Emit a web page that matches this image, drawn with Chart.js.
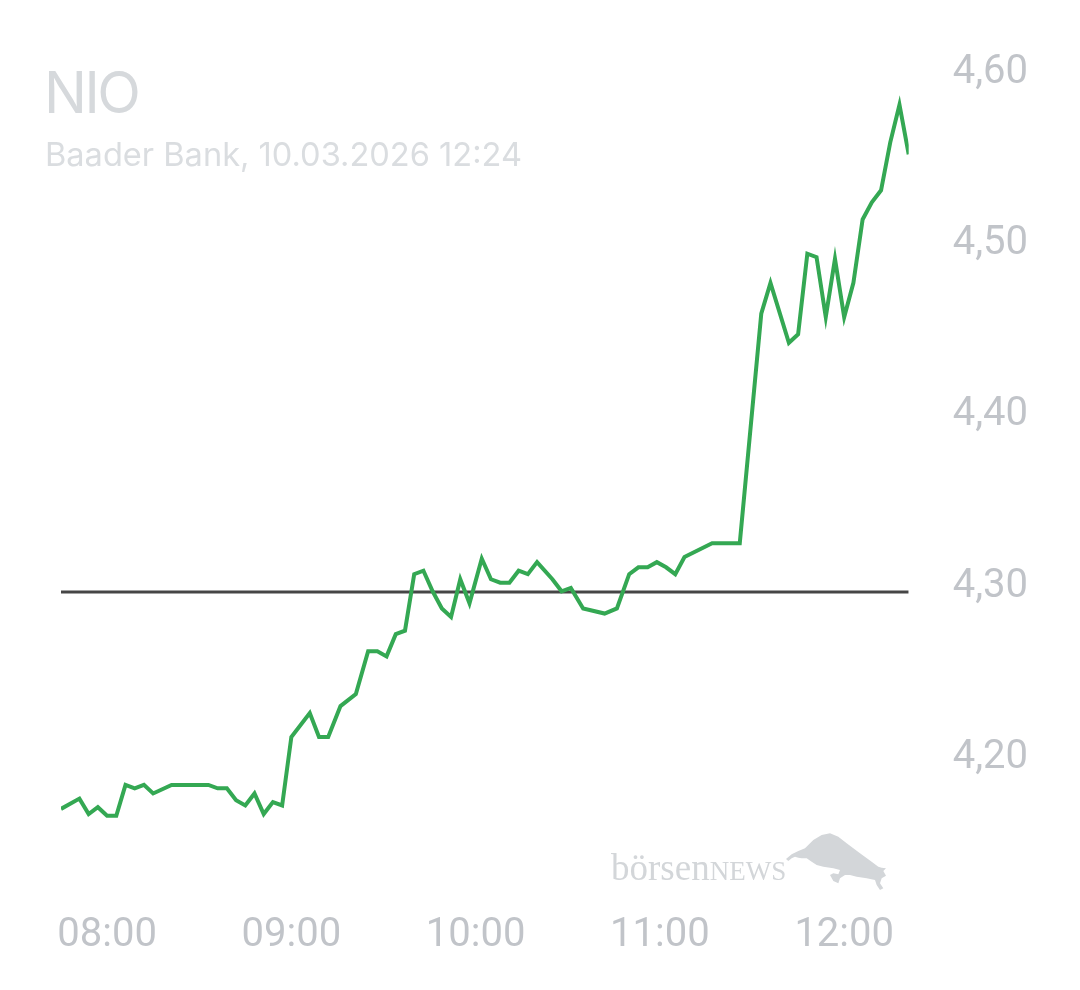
<!DOCTYPE html>
<html>
<head>
<meta charset="utf-8">
<script src="https://cdn.jsdelivr.net/npm/chart.js@4.4.1/dist/chart.umd.min.js"></script>
<style>
  html, body { margin: 0; padding: 0; background: #ffffff; }
  #wrap { position: relative; width: 1080px; height: 990px; overflow: hidden; background: #fff; }
  #c { position: absolute; left: 0; top: 0; }
  #title { position: absolute; left: 44px; top: 64px; font-family: Inter, "Noto Sans", sans-serif; font-size: 57px; color: #d6d9dc; line-height: 1; letter-spacing: -2.5px; }
  #subtitle { position: absolute; left: 45px; top: 138px; font-family: Inter, "Noto Sans", sans-serif; font-size: 32.6px; color: #dadde0; line-height: 1; white-space: nowrap; }
  #wm { position: absolute; left: 611px; top: 849px; font-family: "Liberation Serif", "DejaVu Serif", serif; color: #d3d6d9; white-space: nowrap; line-height: 1; }
  #wm .a { font-size: 37px; }
  #wm .b { font-size: 27px; }
  #bull { position: absolute; left: 780px; top: 825px; width: 115px; height: 72px; }
</style>
</head>
<body>
<div id="wrap">
  <canvas id="c" width="1080" height="990"></canvas>
  <div id="title">NIO</div>
  <div id="subtitle">Baader Bank, 10.03.2026 12:24</div>
  <div id="wm"><span class="a">börsen</span><span class="b">NEWS</span></div>
  <svg id="bull" viewBox="0 0 345 216">
    <path fill="#d3d6d9" d="M18 102 L35 88 L55 78 L75 70 L100 45 L125 30 L150 25 L175 35 L200 55 L240 85 L275 110 L295 125 L305 128 L318 130 L310 138 L318 152 L305 160 L300 175 L310 190 L300 195 L290 180 L285 165 L260 160 L230 155 L210 150 L195 150 L180 160 L175 175 L160 168 L150 150 L160 145 L175 148 L180 135 L160 130 L130 125 L110 120 L95 110 L80 100 L65 100 L55 98 L45 95 L35 100 L25 108 Z"/>
  </svg>
</div>
<script>
// ---- data ----
const times = ['07:45','07:51','07:54','07:57','08:00','08:03','08:06','08:09','08:12','08:15',
  '08:21','08:33','08:36','08:39','08:42','08:45','08:48','08:51','08:54','08:57',
  '09:00','09:06','09:09','09:12','09:16','09:21','09:25','09:28','09:31','09:34',
  '09:37','09:40','09:43','09:46','09:49','09:52','09:55','09:58','10:02','10:05',
  '10:08','10:11','10:14','10:17','10:20','10:25','10:28','10:31','10:35','10:42',
  '10:46','10:50','10:53','10:56','10:59','11:02','11:05','11:08','11:17','11:26',
  '11:33','11:36','11:42','11:45','11:48','11:51','11:54','11:57','12:00','12:03',
  '12:06','12:09','12:12','12:15','12:18','12:21'];
const prices = [4.168,4.174,4.165,4.169,4.164,4.164,4.182,4.180,4.182,4.177,
  4.182,4.182,4.180,4.180,4.173,4.170,4.177,4.165,4.172,4.170,
  4.210,4.224,4.210,4.210,4.228,4.235,4.260,4.260,4.257,4.270,
  4.272,4.305,4.307,4.295,4.285,4.280,4.302,4.288,4.314,4.302,
  4.300,4.300,4.307,4.305,4.312,4.302,4.295,4.297,4.285,4.282,
  4.285,4.305,4.309,4.309,4.312,4.309,4.305,4.315,4.323,4.323,
  4.457,4.475,4.440,4.445,4.492,4.490,4.455,4.489,4.455,4.475,
  4.512,4.522,4.529,4.557,4.579,4.550];
const previousClose = 4.2946;
const xTickLabels = ['08:00','09:00','10:00','11:00','12:00'];
const yTickValues = [4.20, 4.30, 4.40, 4.50, 4.60];

// ---- helpers ----
const toMin = t => { const [h, m] = t.split(':').map(Number); return (h - 8) * 60 + m; };
const xTickValues = xTickLabels.map(toMin);
const xMin = toMin(times[0]);
const xMax = toMin(times[times.length - 1]);

const lineData = times.map((t, i) => ({ x: toMin(t), y: prices[i] }));
const refData = [{ x: xMin, y: previousClose }, { x: xMax, y: previousClose }];

const tickColor = '#c1c4c9';
const tickFont = { family: 'Roboto', size: 40 };

new Chart(document.getElementById('c'), {
  type: 'line',
  data: {
    datasets: [
      { data: refData, borderColor: '#464646', borderWidth: 3, pointRadius: 0, order: 2 },
      { data: lineData, borderColor: '#34a853', borderWidth: 4, pointRadius: 0, tension: 0, order: 1 }
    ]
  },
  options: {
    responsive: false,
    animation: false,
    devicePixelRatio: 1,
    layout: { padding: { left: 61, right: 52, top: 34.4, bottom: 30 } },
    plugins: { legend: { display: false }, tooltip: { enabled: false }, title: { display: false } },
    scales: {
      x: {
        type: 'linear',
        min: xMin,
        max: xMax,
        grid: { display: false, drawTicks: true, tickLength: 38 },
        border: { display: false },
        afterBuildTicks: axis => { axis.ticks = xTickValues.map(v => ({ value: v })); },
        ticks: {
          color: tickColor,
          font: tickFont,
          padding: 0,
          maxRotation: 0,
          autoSkip: false,
          callback: (v) => { const i = xTickValues.indexOf(v); return i >= 0 ? xTickLabels[i] : ''; }
        }
      },
      y: {
        type: 'linear',
        position: 'right',
        min: 4.13,
        max: 4.62,
        grid: { display: false, drawTicks: true, tickLength: 44 },
        border: { display: false },
        afterBuildTicks: axis => { axis.ticks = yTickValues.map(v => ({ value: v })); },
        ticks: {
          color: tickColor,
          font: tickFont,
          padding: 0,
          labelOffset: 4,
          callback: (v) => Number(v).toFixed(2).replace('.', ',')
        }
      }
    }
  }
});
</script>
</body>
</html>
